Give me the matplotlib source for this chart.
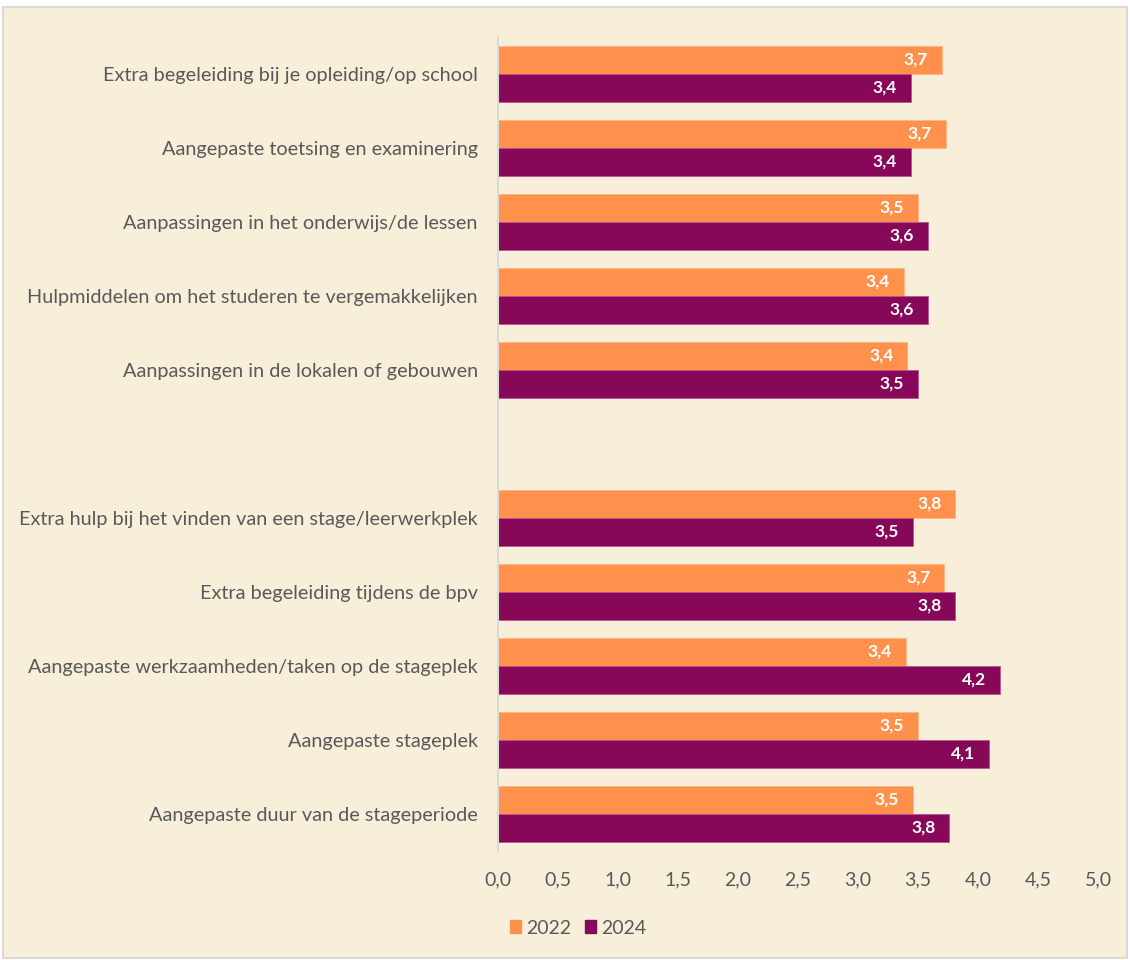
import numpy as np
import matplotlib.pyplot as plt
from matplotlib.patches import Patch, Rectangle

plt.rcParams['font.family'] = ['Lato', 'DejaVu Sans']

# school-related support (top group)
school_items = ['Extra begeleiding bij je opleiding/op school',
                'Aangepaste toetsing en examinering',
                'Aanpassingen in het onderwijs/de lessen',
                'Hulpmiddelen om het studeren te vergemakkelijken',
                'Aanpassingen in de lokalen of gebouwen']
school_2022 = [3.70, 3.73, 3.50, 3.38, 3.41]
school_2024 = [3.44, 3.44, 3.58, 3.58, 3.50]

# internship-related support (bottom group)
stage_items = ['Extra hulp bij het vinden van een stage/leerwerkplek',
               'Extra begeleiding tijdens de bpv',
               'Aangepaste werkzaamheden/taken op de stageplek',
               'Aangepaste stageplek',
               'Aangepaste duur van de stageperiode']
stage_2022 = [3.81, 3.72, 3.40, 3.50, 3.46]
stage_2024 = [3.46, 3.81, 4.18, 4.09, 3.76]

years = ['2022', '2024']
xticks = [0, 0.5, 1, 1.5, 2, 2.5, 3, 3.5, 4, 4.5, 5]

c22 = '#FF914D'
c24 = '#870859'
bg = '#F8EFDA'
txt = '#595959'

labels = school_items + stage_items
v22 = np.array(school_2022 + stage_2022)
v24 = np.array(school_2024 + stage_2024)
# leave one empty row between the two groups
pos = np.r_[np.arange(len(school_items)),
            np.arange(len(stage_items)) + len(school_items) + 1]

fig = plt.figure(figsize=(11.3, 9.6), dpi=100, facecolor='white')
fig.patches.append(Rectangle((3 / 1130, 2 / 960), 1124 / 1130, 951 / 960,
                             transform=fig.transFigure, facecolor=bg,
                             edgecolor='#D9D9D9', linewidth=1.5, zorder=-1))
ax = fig.add_axes([498 / 1130, 1 - 851 / 960, 600 / 1130, 814 / 960])
ax.set_facecolor(bg)
ax.patch.set_alpha(0)

h = 28 / 74
b1 = ax.barh(pos - h / 2, v22, height=h, color=c22, edgecolor='#FFB583', linewidth=0.6)
b2 = ax.barh(pos + h / 2, v24, height=h, color=c24, edgecolor='#B8558F', linewidth=0.6)

for bars, vals in [(b1, v22), (b2, v24)]:
    for r, v in zip(bars, vals):
        ax.annotate(f'{v:.1f}'.replace('.', ','),
                    (v, r.get_y() + r.get_height() / 2),
                    xytext=(-10, 0), textcoords='offset points',
                    ha='right', va='center', color='white',
                    fontsize=12.5, fontweight='bold')

ax.set_xlim(0, 5)
ax.set_ylim(len(labels) + 0.5, -0.5)
ax.set_xticks(xticks)
ax.set_xticklabels([f'{t:.1f}'.replace('.', ',') for t in xticks])
ax.set_yticks(pos)
ax.set_yticklabels(labels)
ax.tick_params(axis='x', length=0, pad=15, labelsize=14, labelcolor=txt)
ax.tick_params(axis='y', length=0, pad=14.5, labelsize=14.3, labelcolor=txt)

for s in ['top', 'right', 'bottom']:
    ax.spines[s].set_visible(False)
ax.spines['left'].set_color('#D9D9D9')
ax.spines['left'].set_linewidth(1.5)

handles = [Patch(color=c22), Patch(color=c24)]
fig.legend(handles, years, loc='center left',
           bbox_to_anchor=(492 / 1130, 1 - 928 / 960), ncol=2, frameon=False,
           fontsize=14, labelcolor=txt, handlelength=0.6, handleheight=0.6,
           handletextpad=0.25, columnspacing=0.7)

fig.savefig('out.png', dpi=100, facecolor='white')
